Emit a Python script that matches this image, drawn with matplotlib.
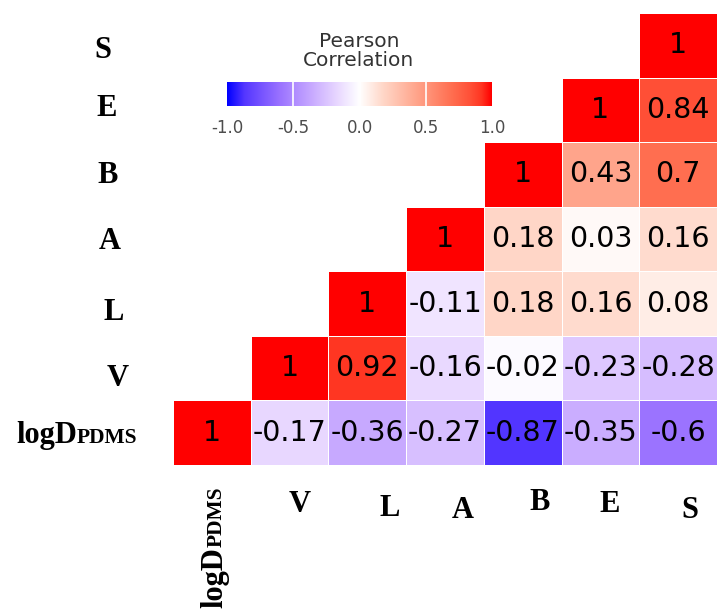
import numpy as np
import matplotlib
matplotlib.use("Agg")
import matplotlib.pyplot as plt
from matplotlib.colors import LinearSegmentedColormap

# variables, bottom row / left column first
labels = ["logD", "V", "L", "A", "B", "E", "S"]

# upper-triangle correlations, row by row (row = y variable, from logD upward)
row_logD = [1, -0.17, -0.36, -0.27, -0.87, -0.35, -0.6]
row_V = [1, 0.92, -0.16, -0.02, -0.23, -0.28]
row_L = [1, -0.11, 0.18, 0.16, 0.08]
row_A = [1, 0.18, 0.03, 0.16]
row_B = [1, 0.43, 0.7]
row_E = [1, 0.84]
row_S = [1]
rows = [row_logD, row_V, row_L, row_A, row_B, row_E, row_S]

cbar_ticks = [-1.0, -0.5, 0.0, 0.5, 1.0]

n = len(labels)
corr = np.full((n, n), np.nan)
for r, vals in enumerate(rows):
    for k, v in enumerate(vals):
        corr[r, r + k] = v
mcorr = np.ma.masked_invalid(corr)

# blue - white - red gradient (Lab-like, as in ggcorrplot)
nodes = [(-1, (0, 0, 255)), (-0.87, (85, 55, 255)), (-0.6, (155, 115, 255)),
         (-0.36, (200, 170, 255)), (-0.17, (232, 215, 255)), (0, (255, 255, 255)),
         (0.18, (255, 215, 200)), (0.43, (255, 165, 140)), (0.7, (255, 110, 80)),
         (0.84, (255, 80, 55)), (0.92, (255, 55, 35)), (1, (255, 0, 0))]
cmap = LinearSegmentedColormap.from_list(
    "corr", [((v + 1) / 2, tuple(c / 255 for c in rgb)) for v, rgb in nodes])

W, H = 723, 613
fig = plt.figure(figsize=(W / 100, H / 100), dpi=100)


def px(x0, y0, w, h):
    return [x0 / W, 1 - (y0 + h) / H, w / W, h / H]


to_fig = lambda x, y: (x / W, 1 - y / H)

ax = fig.add_axes(px(173, 13, 544, 452))
ax.pcolormesh(np.arange(n + 1), np.arange(n + 1), mcorr, cmap=cmap,
              vmin=-1, vmax=1, edgecolors="white", linewidth=0.6)
ax.set_xlim(0, n)
ax.set_ylim(0, n)
ax.axis("off")

# DejaVu Sans is wider than Arial, close to the stretched numbers of the original
for r in range(n):
    for c in range(n):
        v = corr[r, c]
        if np.isnan(v):
            continue
        ax.text(c + 0.5, r + 0.5, "%g" % v, ha="center", va="center",
                fontsize=20.5, color="black", family="DejaVu Sans")

serif = dict(family="Liberation Serif", weight="bold", color="black")

# y labels (pixel positions nudged to match the original layout)
ylab_pos = {"S": (103, 50), "E": (107, 108), "B": (108, 176), "A": (110, 242),
            "L": (114, 312), "V": (118, 378)}
for lab, (x, y) in ylab_pos.items():
    fig.text(*to_fig(x, y), lab, ha="center", va="center", fontsize=22, **serif)
fig.text(*to_fig(77, 443), "logD", ha="right", va="baseline", fontsize=22, **serif)
fig.text(*to_fig(77, 443), "PDMS", ha="left", va="baseline", fontsize=15.5, **serif)

# x labels
xlab_pos = {"V": (300, 505), "L": (390, 508), "A": (463, 510), "B": (540, 503),
            "E": (610, 505), "S": (690, 510)}
for lab, (x, y) in xlab_pos.items():
    fig.text(*to_fig(x, y), lab, ha="center", va="center", fontsize=22, **serif)
fig.text(*to_fig(222, 547), "logD", ha="right", va="baseline", fontsize=22,
         rotation=90, rotation_mode="anchor", **serif)
fig.text(*to_fig(222, 547), "PDMS", ha="left", va="baseline", fontsize=15.5,
         rotation=90, rotation_mode="anchor", **serif)

# colour bar
cax = fig.add_axes(px(227, 82, 265, 24))
grad = np.linspace(-1, 1, 256).reshape(1, -1)
cax.imshow(grad, aspect="auto", cmap=cmap, vmin=-1, vmax=1,
           extent=[-1, 1, 0, 1])
for t in cbar_ticks[1:-1]:
    cax.axvline(t, color="white", lw=1.2)
cax.set_xlim(-1, 1)
cax.set_ylim(0, 1)
cax.set_yticks([])
cax.set_xticks(cbar_ticks)
cax.set_xticklabels(["%.1f" % t for t in cbar_ticks], family="DejaVu Sans",
                    fontsize=12, color="#4d4d4d")
cax.tick_params(axis="x", length=0, pad=9)
for sp in cax.spines.values():
    sp.set_visible(False)
fig.text(*to_fig(359, 51), "Pearson\nCorrelation", ha="center", va="center",
         fontsize=14.5, family="DejaVu Sans", color="#333333", linespacing=1.05)

fig.savefig("out.png", dpi=100)
